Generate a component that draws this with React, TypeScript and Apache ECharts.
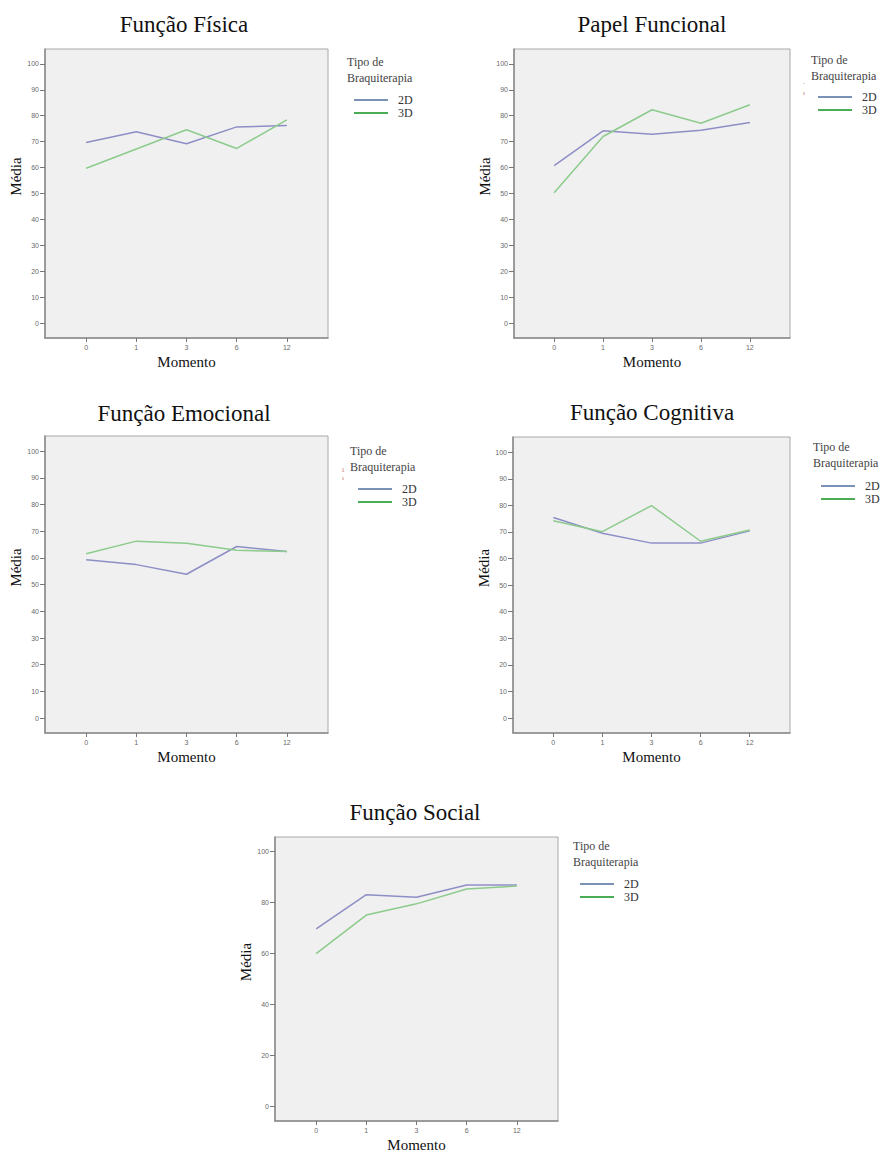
import React, { useEffect, useRef } from "react";
import * as echarts from "echarts";

const momento = ["0", "1", "3", "6", "12"];
const momentoIdx = [0, 1, 2, 3, 4];
const yTicks10 = [0, 10, 20, 30, 40, 50, 60, 70, 80, 90, 100];
const yTicks20 = [0, 20, 40, 60, 80, 100];

const fisica2D = [69.7, 73.8, 69.2, 75.7, 76.2];
const fisica3D = [59.8, 67.2, 74.6, 67.4, 78.4];
const papel2D = [60.8, 74.2, 72.9, 74.4, 77.4];
const papel3D = [50.3, 72.0, 82.3, 77.1, 84.2];
const emocional2D = [59.3, 57.5, 53.9, 64.3, 62.4];
const emocional3D = [61.6, 66.3, 65.5, 62.9, 62.4];
const cognitiva2D = [75.4, 69.5, 65.8, 65.8, 70.4];
const cognitiva3D = [74.2, 70.1, 79.9, 66.5, 70.7];
const social2D = [69.7, 83.1, 82.1, 86.9, 86.9];
const social3D = [60.0, 75.1, 79.5, 85.3, 86.5];

const titles = ["Função Física", "Papel Funcional", "Função Emocional", "Função Cognitiva", "Função Social"];
const seriesNames = ["2D", "3D"];

const panels = [
  { title: titles[0], d2: fisica2D, d3: fisica3D, ticks: yTicks10, grid: [45, 49, 283, 289], tx: 184, ty: 24, lx: 349, ly: 89, hx: 347, hy: 54 },
  { title: titles[1], d2: papel2D, d3: papel3D, ticks: yTicks10, grid: [514, 49, 276, 289], tx: 652, ty: 24, lx: 813, ly: 86, hx: 811, hy: 52 },
  { title: titles[2], d2: emocional2D, d3: emocional3D, ticks: yTicks10, grid: [45, 436, 283, 297], tx: 184, ty: 413, lx: 353, ly: 478, hx: 350, hy: 443 },
  { title: titles[3], d2: cognitiva2D, d3: cognitiva3D, ticks: yTicks10, grid: [513, 437, 277, 296], tx: 652, ty: 412, lx: 816, ly: 475, hx: 813, hy: 439 },
  { title: titles[4], d2: social2D, d3: social3D, ticks: yTicks20, grid: [275, 837, 283, 289], tx: 415, ty: 812, lx: 575, ly: 873, hx: 573, hy: 838 },
];

// small stray marks visible beside two of the legends in the source image
const strayMarks = [
  { x: 804, y: 82, text: "." },
  { x: 804, y: 93, text: "ı" },
  { x: 343, y: 470, text: "1" },
  { x: 343, y: 478, text: "ı" },
];

const SERIF = "Liberation Serif";
const LINE2D = "#8e8ec6";
const LINE3D = "#8ccb8c";
const LEG2D = "#7a92b6";
const LEG3D = "#4aad55";

function buildOption() {
  const grid: any[] = [];
  const xAxis: any[] = [];
  const yAxis: any[] = [];
  const series: any[] = [];
  const legend: any[] = [];
  const graphic: any[] = [];
  const legText = {
    fontFamily: SERIF, fontSize: 12, lineHeight: 12, color: "#333", padding: [0, 0, 0, 5],
    rich: { s: { fontFamily: SERIF, fontSize: 12, lineHeight: 12, color: "#333" } },
  };

  panels.forEach((p, i) => {
    grid.push({
      left: p.grid[0], top: p.grid[1], width: p.grid[2], height: p.grid[3],
      show: true, backgroundColor: "#f0f0f0", borderColor: "#a8a8a8", borderWidth: 1,
    });
    xAxis.push({
      gridIndex: i, type: "value", min: -0.82, max: 4.82,
      splitLine: { show: false },
      axisLine: { show: true, onZero: false, lineStyle: { color: "#8a8a8a", width: 1.5 } },
      axisTick: { show: true, length: 4, customValues: momentoIdx, lineStyle: { color: "#777" } },
      axisLabel: { customValues: momentoIdx, formatter: (v: number) => momento[Math.round(v)], fontSize: 7, color: "#6a6a6a", margin: 6 },
      name: "Momento", nameLocation: "middle", nameGap: 16,
      nameTextStyle: { fontFamily: SERIF, fontSize: 15, color: "#111" },
    });
    yAxis.push({
      gridIndex: i, type: "value", min: -5.6, max: 105.7,
      splitLine: { show: false },
      axisLine: { show: true, onZero: false, lineStyle: { color: "#8a8a8a", width: 1.5 } },
      axisTick: { show: true, length: 5, customValues: p.ticks, lineStyle: { color: "#777" } },
      axisLabel: { customValues: p.ticks, fontSize: 7, color: "#6a6a6a", margin: 6 },
      name: "Média", nameLocation: "middle", nameRotate: 90, nameGap: 20,
      nameTextStyle: { fontFamily: SERIF, fontSize: 15, color: "#111", padding: [0, 0, 0, 34] },
    });
    series.push({
      name: seriesNames[0], type: "line", xAxisIndex: i, yAxisIndex: i, showSymbol: false, symbol: "none",
      lineStyle: { color: LINE2D, width: 1.5 }, itemStyle: { color: LINE2D },
      data: p.d2.map((v, k) => [momentoIdx[k], v]),
    });
    series.push({
      name: seriesNames[1], type: "line", xAxisIndex: i, yAxisIndex: i, showSymbol: false, symbol: "none",
      lineStyle: { color: LINE3D, width: 1.5 }, itemStyle: { color: LINE3D },
      data: p.d3.map((v, k) => [momentoIdx[k], v]),
    });
    legend.push({
      orient: "vertical", left: p.lx, top: p.ly, itemWidth: 34, itemHeight: 2, icon: "rect", itemGap: 1,
      selectedMode: false,
      formatter: (name: string) => `{s|${name}}`,
      textStyle: legText,
      data: [
        { name: seriesNames[0], itemStyle: { color: LEG2D, borderWidth: 0 } },
        { name: seriesNames[1], itemStyle: { color: LEG3D, borderWidth: 0 } },
      ],
    });
    graphic.push({
      type: "text", x: p.tx, y: p.ty, silent: true,
      style: { text: p.title, fontFamily: SERIF, fontSize: 23, fill: "#111", align: "center", verticalAlign: "middle" },
    });
    graphic.push({
      type: "text", x: p.hx, y: p.hy, silent: true,
      style: { text: "Tipo de\nBraquiterapia", fontFamily: SERIF, fontSize: 12, lineHeight: 16, fill: "#444", align: "left", verticalAlign: "top" },
    });
  });

  strayMarks.forEach((m) => {
    graphic.push({
      type: "text", x: m.x, y: m.y, silent: true,
      style: { text: m.text, fontFamily: SERIF, fontSize: 7, fill: "#c87070", align: "center", verticalAlign: "middle" },
    });
  });

  return { animation: false, backgroundColor: "#ffffff", grid, xAxis, yAxis, series, legend, graphic };
}

export default function App() {
  const ref = useRef<HTMLDivElement>(null);
  useEffect(() => {
    if (!ref.current) return;
    const chart = echarts.init(ref.current, undefined, { renderer: "svg" });
    chart.setOption(buildOption() as any);
    return () => chart.dispose();
  }, []);
  return <div ref={ref} style={{ position: "absolute", left: 0, top: 0, width: 883, height: 1153 }} />;
}
